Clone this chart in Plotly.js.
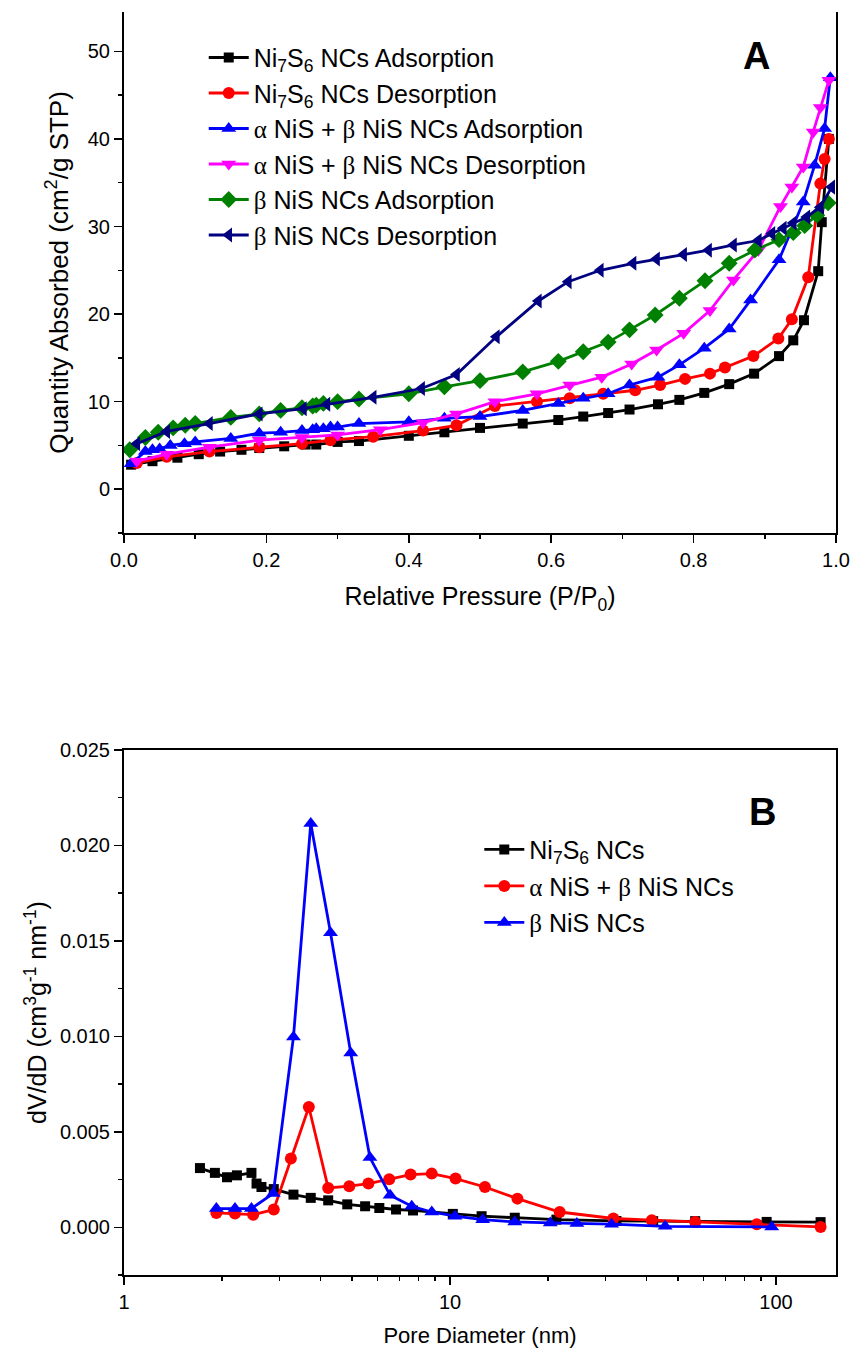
<!DOCTYPE html>
<html>
<head>
<meta charset="utf-8">
<script src="https://cdn.plot.ly/plotly-3.0.1.min.js"></script>
<style>html,body{margin:0;padding:0;background:#fff;}</style>
</head>
<body>
<div id="chart" style="width:851px;height:1359px;"></div>
<script>
// ---------- Panel A: N2 isotherms ----------
const ni7s6AdsP = [0.01,0.04,0.075,0.105,0.135,0.165,0.19,0.225,0.255,0.27,0.30,0.33,0.40,0.45,0.50,0.56,0.61,0.645,0.68,0.71,0.75,0.78,0.815,0.85,0.885,0.92,0.94,0.955,0.975,0.98,0.99];
const ni7s6AdsQ = [2.8,3.2,3.6,4.0,4.3,4.5,4.7,4.9,5.1,5.1,5.4,5.5,6.1,6.5,7.0,7.5,7.9,8.3,8.7,9.1,9.7,10.2,11.0,12.0,13.2,15.2,17.0,19.3,24.9,30.5,40.0];

const ni7s6DesP = [0.99,0.984,0.978,0.961,0.938,0.919,0.884,0.844,0.823,0.788,0.753,0.718,0.673,0.626,0.58,0.521,0.467,0.42,0.35,0.29,0.25,0.19,0.12,0.06,0.018];
const ni7s6DesQ = [40.0,37.7,34.9,24.2,19.4,17.2,15.2,13.9,13.2,12.6,11.9,11.3,10.9,10.4,10.0,9.5,7.3,6.7,6.0,5.6,5.2,4.8,4.3,3.7,3.0];

const abAdsP = [0.01,0.03,0.04,0.05,0.065,0.085,0.10,0.15,0.19,0.22,0.25,0.265,0.27,0.28,0.29,0.30,0.33,0.40,0.45,0.50,0.56,0.61,0.645,0.68,0.71,0.75,0.78,0.815,0.85,0.88,0.92,0.954,0.97,0.984,0.992];
const abAdsQ = [2.9,4.3,4.5,4.6,5.0,5.2,5.4,5.8,6.4,6.5,6.7,6.8,6.9,6.9,7.1,7.1,7.5,7.7,8.1,8.3,9.0,9.8,10.4,10.9,11.9,12.8,14.2,16.1,18.3,21.6,26.2,32.8,37.0,41.2,47.0];

const abDesP = [0.99,0.978,0.968,0.954,0.938,0.922,0.891,0.856,0.823,0.786,0.748,0.713,0.671,0.626,0.58,0.521,0.467,0.42,0.36,0.30,0.25,0.19,0.12,0.06,0.018];
const abDesQ = [46.7,43.6,40.8,36.8,34.5,32.3,27.3,23.9,20.4,17.8,15.9,14.3,12.8,11.9,10.9,10.0,8.6,7.6,6.8,6.2,5.9,5.6,4.8,4.0,3.2];

const bAdsP = [0.008,0.03,0.048,0.069,0.086,0.10,0.15,0.19,0.22,0.25,0.265,0.27,0.28,0.30,0.33,0.40,0.45,0.50,0.56,0.61,0.645,0.68,0.71,0.746,0.78,0.816,0.85,0.886,0.92,0.94,0.956,0.973,0.989];
const bAdsQ = [4.5,5.9,6.5,7.0,7.3,7.5,8.2,8.6,9.0,9.3,9.5,9.6,9.8,10.0,10.3,10.9,11.7,12.4,13.4,14.6,15.7,16.8,18.2,19.9,21.8,23.8,25.8,27.3,28.5,29.3,30.1,31.3,32.7];

const bDesP = [0.994,0.978,0.959,0.94,0.926,0.91,0.891,0.856,0.821,0.786,0.748,0.715,0.669,0.624,0.582,0.523,0.467,0.418,0.35,0.285,0.252,0.19,0.12,0.06,0.018];
const bDesQ = [34.5,32.2,31.1,30.4,29.8,29.2,28.4,27.9,27.3,26.8,26.3,25.8,25.0,23.7,21.5,17.4,13.1,11.5,10.5,9.7,9.2,8.6,7.5,6.6,5.2];

// ---------- Panel B: pore size distribution ----------
const ni7s6D = [1.71,1.90,2.07,2.22,2.46,2.55,2.64,2.88,3.31,3.74,4.23,4.84,5.49,6.07,6.83,7.7,10.2,12.5,15.8,21.2,32.4,42,56.5,93.6,137];
const ni7s6V = [0.00310,0.00285,0.00262,0.00272,0.00285,0.00229,0.00211,0.00200,0.00171,0.00154,0.00141,0.00120,0.00110,0.00101,0.00093,0.00088,0.00070,0.00058,0.00050,0.00040,0.00033,0.00032,0.00032,0.00028,0.00027];

const abD = [1.92,2.19,2.49,2.88,3.25,3.69,4.23,4.91,5.62,6.51,7.57,8.79,10.4,12.8,16.1,21.7,31.7,41.6,56.5,87.3,137];
const abV = [0.00075,0.00072,0.00066,0.00093,0.0036,0.0063,0.00206,0.00215,0.00229,0.00252,0.00276,0.00281,0.00255,0.00211,0.0015,0.0008,0.00046,0.00037,0.00028,0.00016,0.00002];

const bD = [1.92,2.19,2.46,2.87,3.31,3.74,4.30,4.96,5.68,6.55,7.63,8.79,10.36,12.6,15.8,20.3,24.5,31.3,45.7,97];
const bV = [0.00098,0.00098,0.00098,0.00177,0.00997,0.02115,0.01542,0.00913,0.00365,0.00168,0.00110,0.0008,0.00058,0.0004,0.00028,0.00023,0.0002,0.00016,0.00005,0.00002];

const G = (c) => '<span style="font-family:\'Liberation Serif\'">' + c + '</span>';
const namesA = [
  'Ni<sub>7</sub>S<sub>6</sub> NCs Adsorption',
  'Ni<sub>7</sub>S<sub>6</sub> NCs Desorption',
  G('α') + ' NiS + ' + G('β') + ' NiS NCs Adsorption',
  G('α') + ' NiS + ' + G('β') + ' NiS NCs Desorption',
  G('β') + ' NiS NCs Adsorption',
  G('β') + ' NiS NCs Desorption'
];
const namesB = [
  'Ni<sub>7</sub>S<sub>6</sub> NCs',
  G('α') + ' NiS + ' + G('β') + ' NiS NCs',
  G('β') + ' NiS NCs'
];

function tr(x, y, name, color, symbol, size, xa, ya, legend, grp) {
  return {x: x, y: y, name: name, type: 'scatter', mode: 'lines+markers',
    xaxis: xa, yaxis: ya, legend: legend, legendgroup: grp,
    line: {color: color, width: 2.8},
    marker: {color: color, symbol: symbol, size: size, line: {width: 0}}};
}

const data = [
  tr(ni7s6AdsP, ni7s6AdsQ, namesA[0], '#000000', 'square', 10, 'x', 'y', 'legend', 'a1'),
  tr(ni7s6DesP, ni7s6DesQ, namesA[1], '#ff0000', 'circle', 12, 'x', 'y', 'legend', 'a2'),
  tr(abAdsP, abAdsQ, namesA[2], '#0000ff', 'triangle-up', 13, 'x', 'y', 'legend', 'a3'),
  tr(abDesP, abDesQ, namesA[3], '#ff00ff', 'triangle-down', 13, 'x', 'y', 'legend', 'a4'),
  tr(bAdsP, bAdsQ, namesA[4], '#008000', 'diamond', 13, 'x', 'y', 'legend', 'a5'),
  tr(bDesP, bDesQ, namesA[5], '#000080', 'triangle-left', 13, 'x', 'y', 'legend', 'a6'),
  tr(ni7s6D, ni7s6V, namesB[0], '#000000', 'square', 10, 'x2', 'y2', 'legend2', 'b1'),
  tr(abD, abV, namesB[1], '#ff0000', 'circle', 12, 'x2', 'y2', 'legend2', 'b2'),
  tr(bD, bV, namesB[2], '#0000ff', 'triangle-up', 13, 'x2', 'y2', 'legend2', 'b3')
];

const FONT = 'Liberation Sans, Arial, sans-serif';
const tickFont = {family: FONT, size: 20, color: '#000'};
const titleFontAx = {family: FONT, size: 25, color: '#000'};
const titleFontAy = {family: FONT, size: 26, color: '#000'};
const titleFontBx = {family: FONT, size: 22, color: '#000'};
const titleFontBy = {family: FONT, size: 25, color: '#000'};

const layout = {
  width: 851, height: 1359,
  margin: {l: 124, r: 15, t: 12, b: 84},
  paper_bgcolor: '#fff', plot_bgcolor: '#fff',
  font: {family: FONT, color: '#000'},
  showlegend: true,
  xaxis: {
    domain: [0, 1], anchor: 'y', range: [0, 1.0],
    tickvals: [0, 0.2, 0.4, 0.6, 0.8, 1.0], ticktext: ['0.0','0.2','0.4','0.6','0.8','1.0'],
    ticks: 'outside', ticklen: 8, tickwidth: 1.5, tickcolor: '#000',
    minor: {dtick: 0.1, ticks: 'outside', ticklen: 4, tickwidth: 1.5, tickcolor: '#000', showgrid: false},
    showline: true, linewidth: 2, linecolor: '#000', mirror: false,
    showgrid: false, zeroline: false, tickfont: tickFont,
    title: {text: 'Relative Pressure (P/P<sub>0</sub>)', font: titleFontAx, standoff: 18}
  },
  yaxis: {
    domain: [0.5875, 1], anchor: 'x', range: [-5, 54.5],
    tickvals: [0, 10, 20, 30, 40, 50],
    ticks: 'outside', ticklen: 8, tickwidth: 1.5, tickcolor: '#000',
    minor: {dtick: 5, tick0: 0, ticks: 'outside', ticklen: 4, tickwidth: 1.5, tickcolor: '#000', showgrid: false},
    showline: true, linewidth: 2, linecolor: '#000', mirror: true,
    showgrid: false, zeroline: false, tickfont: tickFont,
    title: {text: 'Quantity Absorbed (cm<sup>2</sup>/g STP)', font: titleFontAy, standoff: 12}
  },
  xaxis2: {
    domain: [0, 1], anchor: 'y2', type: 'log', range: [0, 2.184],
    tickvals: [1, 10, 100], ticktext: ['1', '10', '100'],
    ticks: 'outside', ticklen: 8, tickwidth: 1.5, tickcolor: '#000',
    minor: {ticks: 'outside', ticklen: 4, tickwidth: 1.5, tickcolor: '#000', showgrid: false,
            tickvals: [2,3,4,5,6,7,8,9,20,30,40,50,60,70,80,90]},
    showline: true, linewidth: 2, linecolor: '#000', mirror: true,
    showgrid: false, zeroline: false, tickfont: tickFont,
    title: {text: 'Pore Diameter (nm)', font: titleFontBx, standoff: 16}
  },
  yaxis2: {
    domain: [0, 0.4157], anchor: 'x2', range: [-0.0025, 0.025],
    tickvals: [0, 0.005, 0.010, 0.015, 0.020, 0.025],
    ticktext: ['0.000','0.005','0.010','0.015','0.020','0.025'],
    ticks: 'outside', ticklen: 8, tickwidth: 1.5, tickcolor: '#000',
    minor: {dtick: 0.0025, tick0: 0, ticks: 'outside', ticklen: 4, tickwidth: 1.5, tickcolor: '#000', showgrid: false},
    showline: true, linewidth: 2, linecolor: '#000', mirror: true,
    showgrid: false, zeroline: false, tickfont: tickFont,
    title: {text: 'dV/dD (cm<sup>3</sup>g<sup>-1</sup> nm<sup>-1</sup>)', font: titleFontBy, standoff: 6}
  },
  legend: {
    x: 0.112, y: 0.982, xanchor: 'left', yanchor: 'top',
    bgcolor: 'rgba(0,0,0,0)', borderwidth: 0,
    font: {family: FONT, size: 25, color: '#000'},
    tracegroupgap: 0, itemwidth: 40
  },
  legend2: {
    x: 0.499, y: 0.355, xanchor: 'left', yanchor: 'top',
    bgcolor: 'rgba(0,0,0,0)', borderwidth: 0,
    font: {family: FONT, size: 25, color: '#000'},
    tracegroupgap: 1, itemwidth: 40
  },
  annotations: [
    {text: '<b>A</b>', xref: 'paper', yref: 'paper', x: 0.889, y: 0.9652, showarrow: false,
     font: {family: FONT, size: 38, color: '#000'}, xanchor: 'center', yanchor: 'middle'},
    {text: '<b>B</b>', xref: 'paper', yref: 'paper', x: 0.897, y: 0.3666, showarrow: false,
     font: {family: FONT, size: 38, color: '#000'}, xanchor: 'center', yanchor: 'middle'}
  ]
};

Plotly.newPlot('chart', data, layout, {displayModeBar: false, staticPlot: true});
</script>
</body>
</html>
